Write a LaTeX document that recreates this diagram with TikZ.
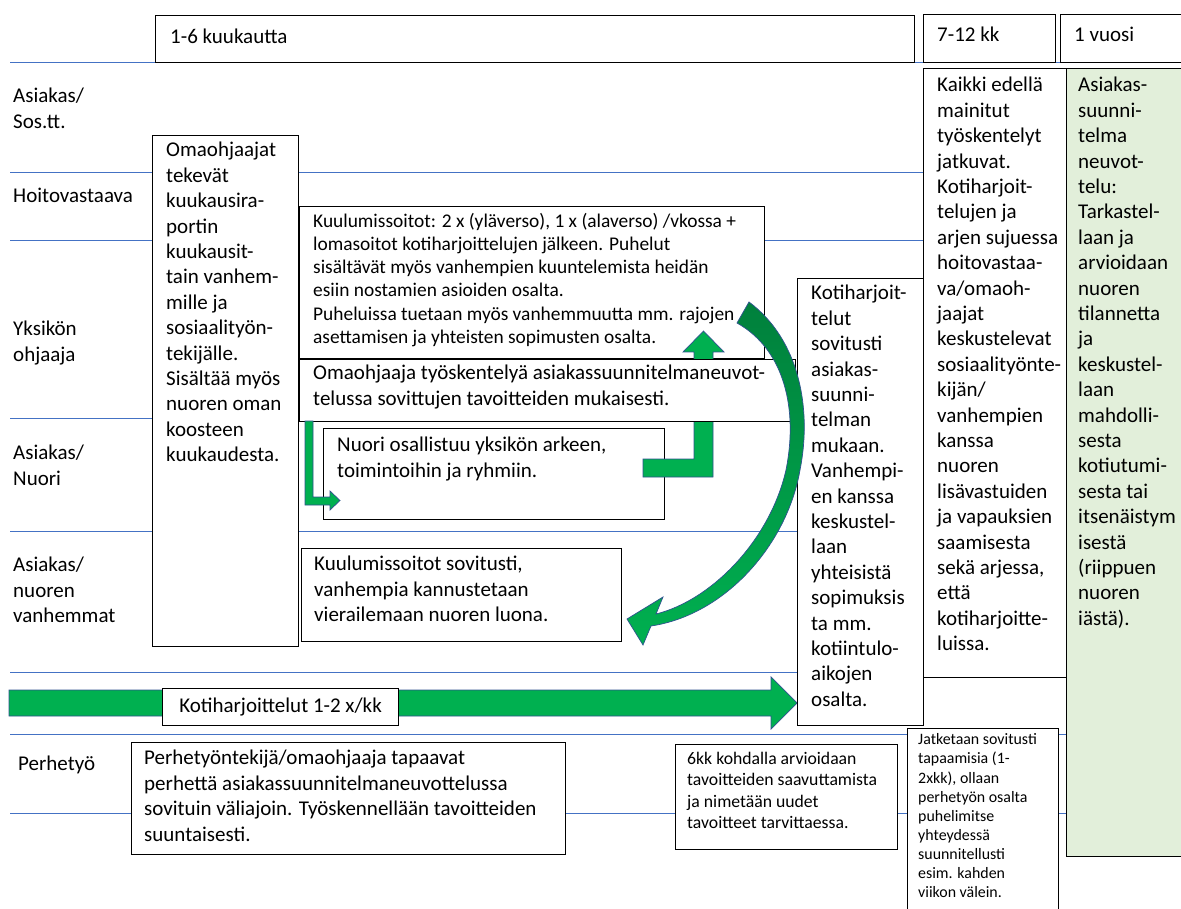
\documentclass[tikz,border=0pt]{standalone}
\usepackage{fontspec}
\setmainfont{Carlito}
\definecolor{laneblue}{RGB}{68,114,196}
\definecolor{arrowgreen}{RGB}{0,176,80}
\definecolor{curvegreen}{RGB}{0,128,60}
\definecolor{arrowedge}{RGB}{47,82,143}
\definecolor{planfill}{RGB}{226,239,218}
\tikzset{
  lane/.style={draw=laneblue, line width=0.9pt},
  box/.style={draw=black, fill=white, line width=1.1pt, anchor=north west, inner sep=0pt},
  txt/.style={anchor=north west, align=left, inner sep=0pt, execute at begin node=\strut, font=\fontsize{21}{25.4}\selectfont},
  smalltxt/.style={txt, font=\fontsize{19.4}{23.3}\selectfont},
  tinytxt/.style={txt, font=\fontsize{17.7}{21.2}\selectfont},
  tiniertxt/.style={txt, font=\fontsize{15.9}{19.1}\selectfont},
  blockarrow/.style={fill=arrowgreen, draw=arrowedge, line width=0.7pt},
}

\begin{document}
\begin{tikzpicture}[x=1pt,y=-1pt]
	\useasboundingbox (0,0) rectangle (1181,909);
	% lanes
	\foreach \y in {62,172,240,418,531,672,734,813}
		\draw[lane] (10,\y) -- (1181,\y);
	% home visits arrow
	\draw[blockarrow] (9,690) -- (771,690) -- (771,677) -- (797,703) -- (771,729) -- (771,716) -- (9,716) -- cycle;
	% time line
	\node[box, minimum width=759pt, minimum height=47pt] (kk16) at (155,15) {};
	\node[txt] at ([shift={(15,10.2)}]kk16.north west) {1-6 kuukautta};
	\node[box, minimum width=132pt, minimum height=48pt] (kk712) at (923,14) {};
	\node[txt] at ([shift={(14,9.2)}]kk712.north west) {7-12 kk};
	\node[box, minimum width=130pt, minimum height=48pt] (vuosi) at (1060,14) {};
	\node[txt] at ([shift={(14,9.2)}]vuosi.north west) {1 vuosi};
	% rows
	\node[txt] (sostt) at (13,88.2) {Asiakas/\\Sos.tt.};
	\node[txt] (hoito) at (13,184.2) {Hoitovastaava};
	\node[txt] (ohjaaja) at (13,321.2) {Yksikön\\ohjaaja};
	\node[txt] (nuori) at (13,445.2) {Asiakas/\\Nuori};
	\node[txt] (vanhemmat) at (13,557.2) {Asiakas/\\nuoren\\vanhemmat};
	\node[txt] (perhe) at (18,752.2) {Perhetyö};
	% 1-6 kk
	\node[box, minimum width=146pt, minimum height=511pt] (raportti) at (152,135) {};
	\node[txt] at ([shift={(14,7.2)}]raportti.north west) {Omaohjaajat\\tekevät\\kuukausira-\\portin\\kuukausit-\\tain vanhem-\\mille ja\\sosiaalityön-\\tekijälle.\\Sisältää myös\\nuoren oman\\koosteen\\kuukaudesta.};
	\node[box, minimum width=465pt, minimum height=152pt] (soitot) at (299,206) {};
	\node[smalltxt] at ([shift={(14,6.7)}]soitot.north west) {Kuulumissoitot: 2 x (yläverso), 1 x (alaverso) /vkossa +\\lomasoitot kotiharjoittelujen jälkeen. Puhelut\\sisältävät myös vanhempien kuuntelemista heidän\\esiin nostamien asioiden osalta.\\Puheluissa tuetaan myös vanhemmuutta mm. rajojen\\asettamisen ja yhteisten sopimusten osalta.};
	\node[box, minimum width=341pt, minimum height=91pt] (arki) at (323,428) {};
	\node[txt] at ([shift={(14,9.2)}]arki.north west) {Nuori osallistuu yksikön arkeen,\\toimintoihin ja ryhmiin.};
	\draw[blockarrow] (643,459) -- (694,459) -- (694,352) -- (683,352) -- (703.5,331) -- (724,352) -- (713,352) -- (713,477) -- (643,477) -- cycle;
	\node[box, minimum width=496pt, minimum height=62pt] (tyoskentely) at (299,359) {};
	\node[txt] at ([shift={(14,6.2)}]tyoskentely.north west) {Omaohjaaja työskentelyä asiakassuunnitelmaneuvot-\\telussa sovittujen tavoitteiden mukaisesti.};
	\draw[blockarrow] (305,421) -- (305,505) -- (330,505) -- (330,510) -- (340,500.5) -- (330,491) -- (330,497) -- (313,497) -- (313,421) -- cycle;
	\node[box, minimum width=320pt, minimum height=93pt] (vierailu) at (301,548) {};
	\node[txt] at ([shift={(13,8.2)}]vierailu.north west) {Kuulumissoitot sovitusti,\\vanhempia kannustetaan\\vierailemaan nuoren luona.};
	\node[box, minimum width=236pt, minimum height=37pt, font=\fontsize{21}{25.4}\selectfont] (harjoitus) at (162,688) {Kotiharjoittelut 1-2 x/kk};
	\node[box, minimum width=126pt, minimum height=447pt] (kotiharj) at (797,278) {};
	\node[txt] at ([shift={(14,7.2)}]kotiharj.north west) {Kotiharjoit-\\telut\\sovitusti\\asiakas-\\suunni-\\telman\\mukaan.\\Vanhempi-\\en kanssa\\keskustel-\\laan\\yhteisistä\\sopimuksis\\ta mm.\\kotiintulo-\\aikojen\\osalta.};
	% 7-12 kk and 1 vuosi
	\node[box, minimum width=143pt, minimum height=609pt] (jatkuu) at (923,68) {};
	\node[txt] at ([shift={(14,9.2)}]jatkuu.north west) {Kaikki edellä\\mainitut\\työskentelyt\\jatkuvat.\\Kotiharjoit-\\telujen ja\\arjen sujuessa\\hoitovastaa-\\va/omaoh-\\jaajat\\keskustelevat\\sosiaalityönte-\\kijän/\\vanhempien\\kanssa\\nuoren\\lisävastuiden\\ja vapauksien\\saamisesta\\sekä arjessa,\\että\\kotiharjoitte-\\luissa.};
	\node[box, fill=planfill, minimum width=130pt, minimum height=788pt] (suunnitelma) at (1066,68) {};
	\node[txt] at ([shift={(12,9.2)}]suunnitelma.north west) {Asiakas-\\suunni-\\telma\\neuvot-\\telu:\\Tarkastel-\\laan ja\\arvioidaan\\nuoren\\tilannetta\\ja\\keskustel-\\laan\\mahdolli-\\sesta\\kotiutumi-\\sesta tai\\itsenäistym\\isestä\\(riippuen\\nuoren\\iästä).};
	% perhetyö
	\node[box, minimum width=434pt, minimum height=112pt] (perhetyo) at (131,742) {};
	\node[txt] at ([shift={(13,8.2)}]perhetyo.north west) {Perhetyöntekijä/omaohjaaja tapaavat\\perhettä asiakassuunnitelmaneuvottelussa\\sovituin väliajoin. Työskennellään tavoitteiden\\suuntaisesti.};
	\node[box, minimum width=222pt, minimum height=105pt] (arvio) at (675,744) {};
	\node[tinytxt] at ([shift={(12,8.2)}]arvio.north west) {6kk kohdalla arvioidaan\\tavoitteiden saavuttamista\\ja nimetään uudet\\tavoitteet tarvittaessa.};
	\node[box, minimum width=151pt, minimum height=190pt] (tapaamiset) at (907,728) {};
	\node[tiniertxt] at ([shift={(11,5.6)}]tapaamiset.north west) {Jatketaan sovitusti\\tapaamisia (1-\\2xkk), ollaan\\perhetyön osalta\\puhelimitse\\yhteydessä\\suunnitellusti\\esim. kahden\\viikon välein.};
	% curved arrow
	\draw[draw=arrowedge, line width=0.7pt, top color=curvegreen, bottom color=arrowgreen]
		(749,302) .. controls (800,340) and (812,410) .. (800,470)
		.. controls (787,545) and (725,615) .. (651,626)
		-- (643,645) -- (627,619) -- (663,597) -- (656,614)
		.. controls (712,600) and (770,540) .. (786,470)
		.. controls (798,410) and (785,350) .. (737,323) -- cycle;
\end{tikzpicture}
\end{document}
